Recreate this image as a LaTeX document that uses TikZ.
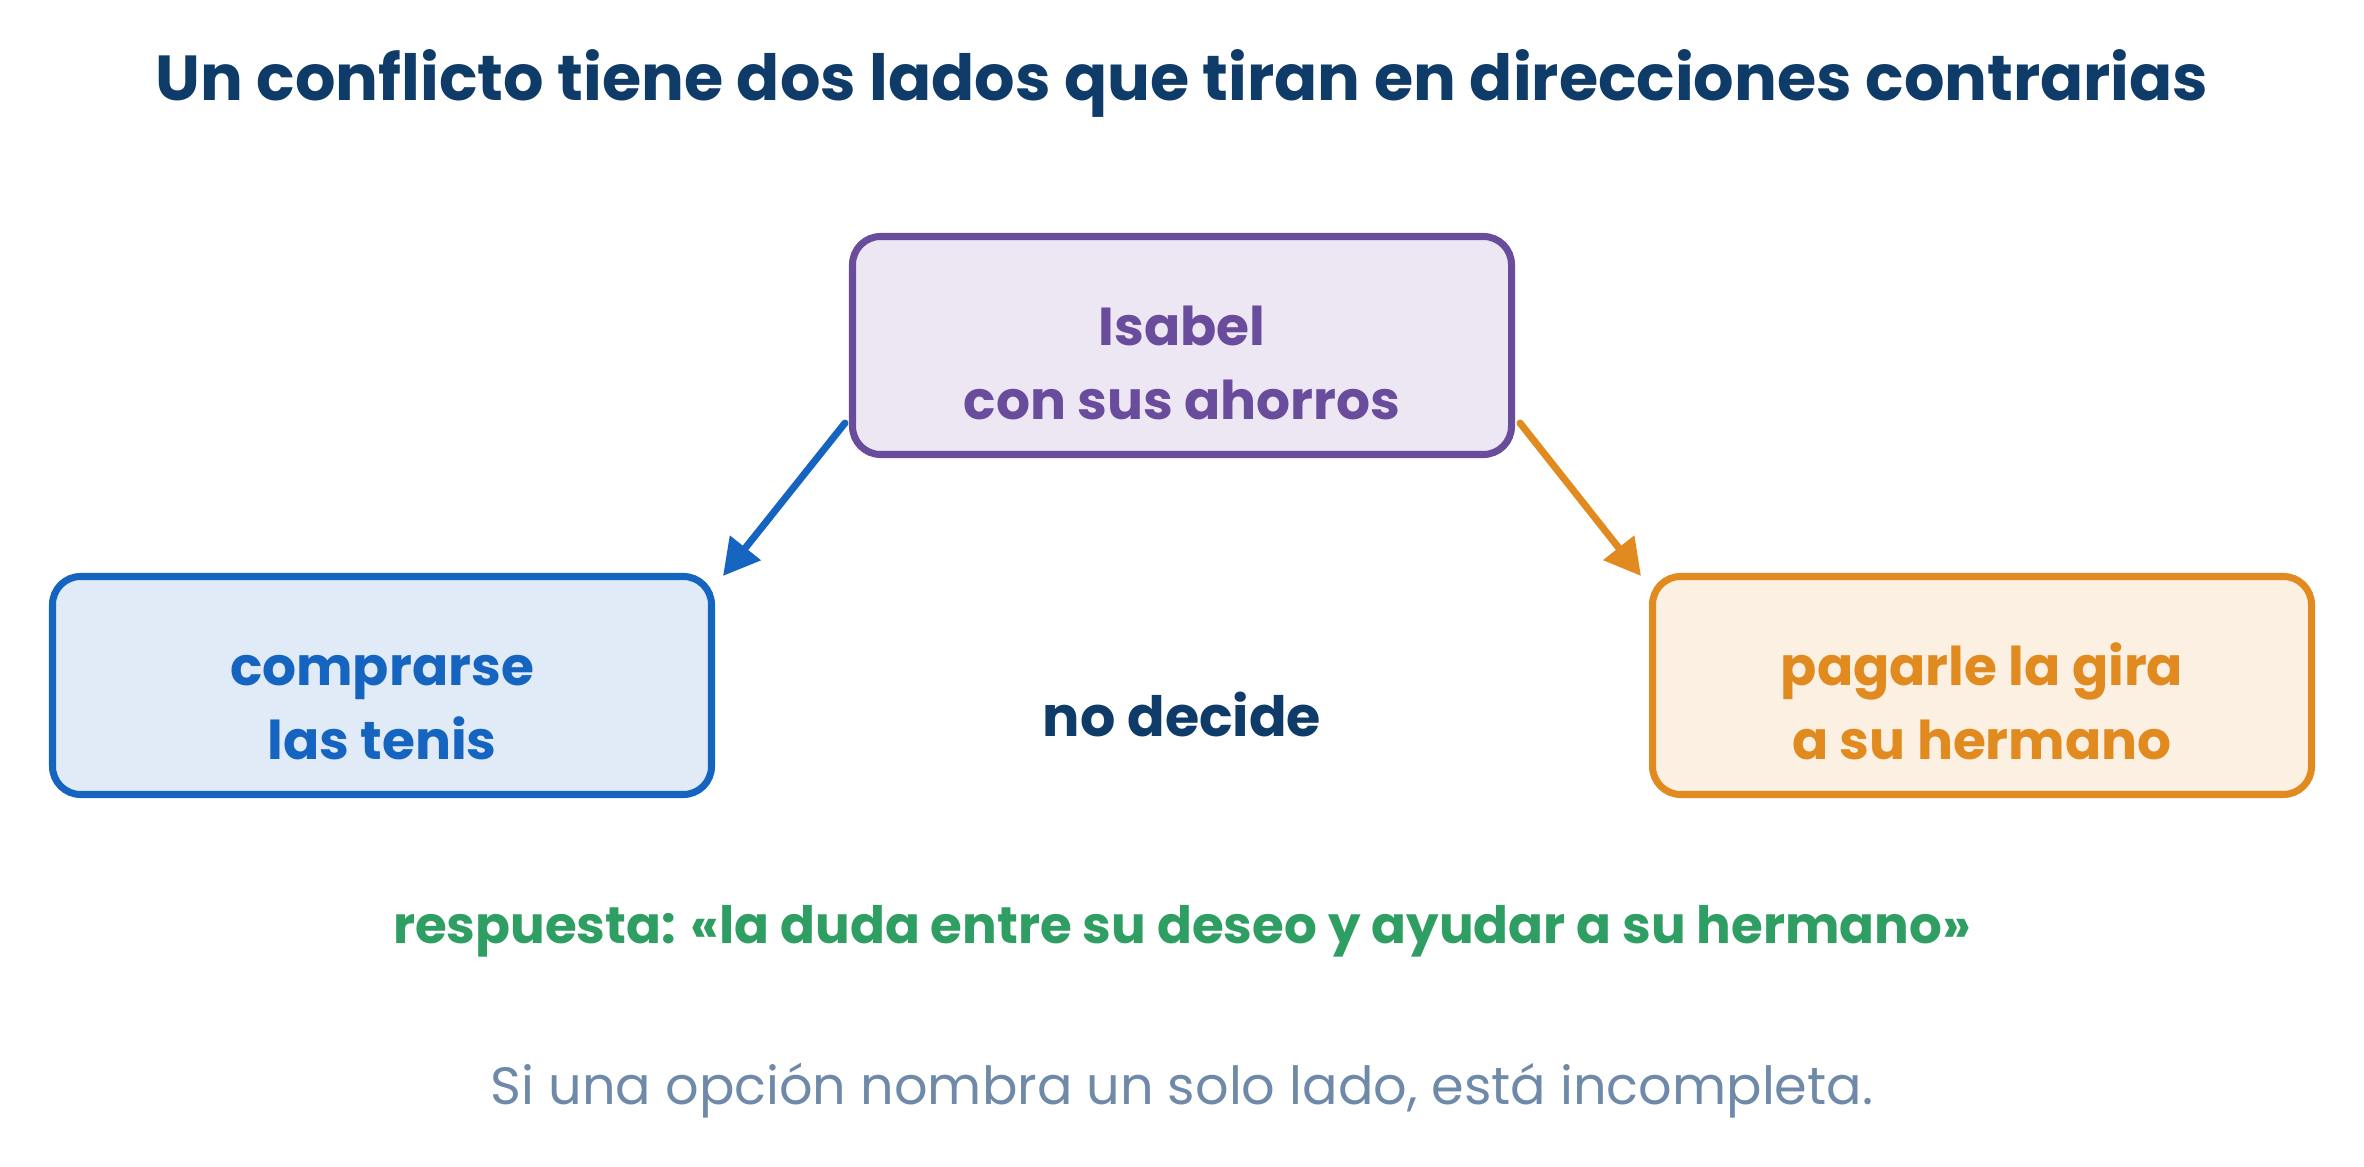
\documentclass[tikz,border=0pt]{standalone}
\usepackage{fontspec}
\setmainfont{Poppins}
\usetikzlibrary{arrows.meta}

\definecolor{navy}{HTML}{0F3B68}
\definecolor{purpleline}{HTML}{6A4C9C}
\definecolor{purplefill}{HTML}{ECE7F2}
\definecolor{blueline}{HTML}{1565C0}
\definecolor{bluefill}{HTML}{E1EBF7}
\definecolor{orangeline}{HTML}{E08A20}
\definecolor{orangefill}{HTML}{FCF0E2}
\definecolor{answergreen}{HTML}{2E9E62}
\definecolor{notegrey}{HTML}{6F8AA8}

\begin{document}
\begin{tikzpicture}[
	sidebox/.style={line width=2pt, rounded corners=8pt, minimum width=6.59cm, minimum height=2.18cm, inner sep=0pt, align=center, text height=1.49cm, text depth=0pt, font=\fontsize{15.2}{21.2}\selectfont\bfseries},
	pullarrow/.style={line width=2pt, line cap=round, -{Triangle[length=0.36cm, width=0.38cm]}}]
	\useasboundingbox (0, 0) rectangle (23.64, 11.66);

	\node[anchor=base, text=navy, font=\fontsize{18.1}{22}\selectfont\bfseries] at (11.82, 10.65) (title) {Un conflicto tiene dos lados que tiran en direcciones contrarias};

	\node[sidebox, draw=purpleline, fill=purplefill, text=purpleline] at (11.82, 8.205) (isabel) {Isabel\\con sus ahorros};
	\node[sidebox, draw=blueline, fill=bluefill, text=blueline] at (3.82, 4.805) (tenis) {comprarse\\las tenis};
	\node[sidebox, draw=orangeline, fill=orangefill, text=orangeline] at (19.82, 4.805) (gira) {pagarle la gira\\a su hermano};

	\node[anchor=base, text=navy, font=\fontsize{15.8}{18}\selectfont\bfseries] at (11.82, 4.29) (nodecide) {no decide};
	\node[anchor=base, text=answergreen, font=\fontsize{14.65}{17}\selectfont\bfseries] at (11.82, 2.23) (respuesta) {respuesta: «la duda entre su deseo y ayudar a su hermano»};
	\node[anchor=base, text=notegrey, font=\fontsize{14.95}{18}\selectfont] at (11.82, 0.62) (nota) {Si una opción nombra un solo lado, está incompleta.};

	\draw[pullarrow, draw=blueline, fill=blueline] ([xshift=-0.04cm, yshift=0.35cm]isabel.south west) -- ([xshift=0.08cm, yshift=-0.03cm]tenis.north east);
	\draw[pullarrow, draw=orangeline, fill=orangeline] ([xshift=0.05cm, yshift=0.35cm]isabel.south east) -- ([xshift=-0.08cm, yshift=-0.03cm]gira.north west);
\end{tikzpicture}
\end{document}
